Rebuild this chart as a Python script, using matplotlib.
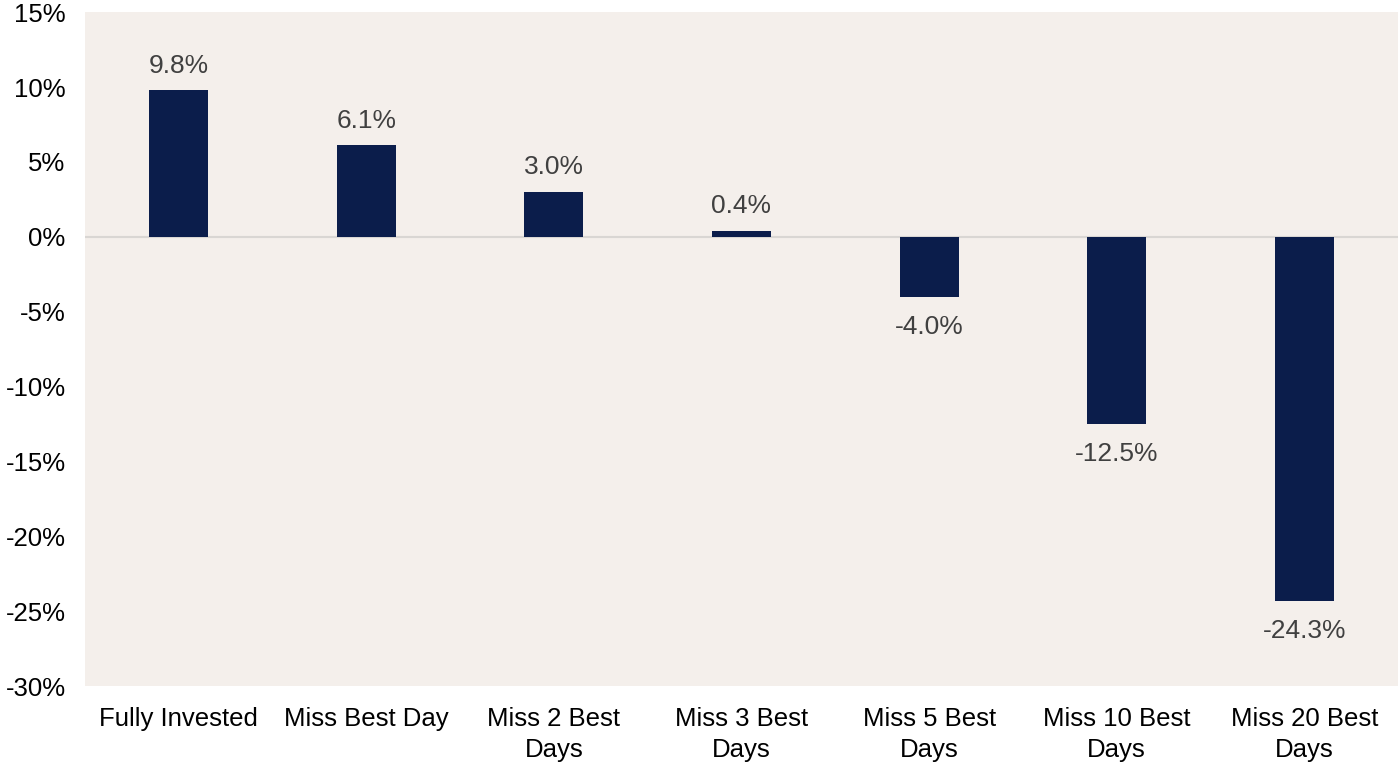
import matplotlib.pyplot as plt
from matplotlib.ticker import FuncFormatter

plt.rcParams['font.family'] = ['Liberation Sans', 'DejaVu Sans']

categories = ['Fully Invested', 'Miss Best Day', 'Miss 2 Best\nDays', 'Miss 3 Best\nDays',
              'Miss 5 Best\nDays', 'Miss 10 Best\nDays', 'Miss 20 Best\nDays']
returns = [9.8, 6.1, 3.0, 0.4, -4.0, -12.5, -24.3]

fig = plt.figure(figsize=(13.98, 7.64), dpi=100)
ax = fig.add_axes([0.0608, 0.102, 0.9392, 0.882])
ax.set_facecolor('#F4EFEB')

x = range(len(categories))
ax.bar(x, returns, width=0.315, color='#0B1D4B', zorder=3)
ax.axhline(0, color='#D9D6D3', linewidth=1.5, zorder=2)

# value labels above positive bars, below negative ones
for i, v in zip(x, returns):
    if v >= 0:
        ax.annotate(f'{v:.1f}%', (i, v), xytext=(0, 9), textcoords='offset points',
                    ha='center', va='bottom', fontsize=19, color='#404040')
    else:
        ax.annotate(f'{v:.1f}%', (i, v), xytext=(0, -13), textcoords='offset points',
                    ha='center', va='top', fontsize=19, color='#404040')

ax.set_xlim(-0.5, len(categories) - 0.5)
ax.set_ylim(-30, 15)
ax.set_yticks(range(-30, 16, 5))
ax.yaxis.set_major_formatter(FuncFormatter(lambda v, p: f'{v:.0f}%'))
ax.set_xticks(list(x))
ax.set_xticklabels(categories, linespacing=1.35)
ax.tick_params(axis='both', length=0, labelsize=18.5, colors='black')
ax.tick_params(axis='y', pad=14)
ax.tick_params(axis='x', pad=15)
for s in ax.spines.values():
    s.set_visible(False)

fig.savefig('out.png', dpi=100)
